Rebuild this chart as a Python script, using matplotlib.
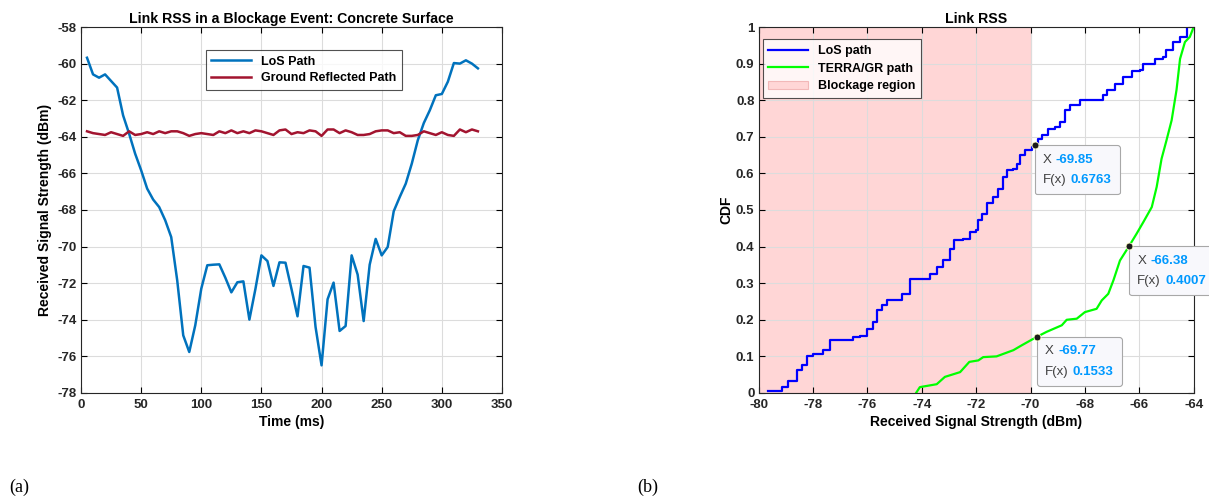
import matplotlib
matplotlib.use('Agg')
import matplotlib.pyplot as plt
from matplotlib.offsetbox import TextArea, HPacker, VPacker, AnnotationBbox

plt.rcParams['font.family'] = ['Liberation Sans', 'DejaVu Sans']
plt.rcParams['axes.unicode_minus'] = False

# (a) RSS over time
time_ms = [5, 10, 15, 20, 25, 30, 35, 40, 45, 50, 55, 60, 65, 70, 75, 80, 85, 90, 95, 100,
           105, 110, 115, 120, 125, 130, 135, 140, 145, 150, 155, 160, 165, 170, 175, 180,
           185, 190, 195, 200, 205, 210, 215, 220, 225, 230, 235, 240, 245, 250, 255, 260,
           265, 270, 275, 280, 285, 290, 295, 300, 305, 310, 315, 320, 325, 330]
los_rss = [-59.68, -60.59, -60.77, -60.59, -60.95, -61.31, -62.83, -63.83, -64.92, -65.83,
           -66.83, -67.43, -67.84, -68.56, -69.48, -71.85, -74.85, -75.76, -74.30, -72.30,
           -71.02, -70.99, -70.97, -71.70, -72.50, -71.95, -71.90, -73.99, -72.32, -70.48,
           -70.79, -72.15, -70.86, -70.88, -72.32, -73.81, -71.06, -71.15, -74.39, -76.49,
           -72.88, -71.97, -74.61, -74.34, -70.48, -71.53, -74.07, -70.99, -69.58, -70.48,
           -70.02, -68.07, -67.29, -66.56, -65.47, -64.19, -63.25, -62.55, -61.73, -61.66,
           -60.99, -59.97, -60.00, -59.82, -60.00, -60.26]
gr_rss = [-63.70, -63.80, -63.85, -63.90, -63.75, -63.85, -63.95, -63.70, -63.90, -63.85,
          -63.75, -63.85, -63.70, -63.80, -63.70, -63.70, -63.80, -63.95, -63.85, -63.80,
          -63.85, -63.90, -63.70, -63.80, -63.65, -63.80, -63.70, -63.80, -63.65, -63.70,
          -63.80, -63.90, -63.65, -63.60, -63.85, -63.75, -63.80, -63.65, -63.70, -63.95,
          -63.60, -63.60, -63.80, -63.65, -63.75, -63.90, -63.90, -63.85, -63.70, -63.65,
          -63.65, -63.80, -63.75, -63.95, -63.95, -63.90, -63.70, -63.80, -63.90, -63.75,
          -63.90, -63.95, -63.60, -63.75, -63.60, -63.70]

# (b) CDF knots
los_x = [-79.67, -79.15, -78.91, -78.60, -78.42, -78.23, -77.99, -77.62, -77.38, -76.64,
         -76.52, -76.27, -76.03, -75.78, -75.66, -75.48, -75.29, -74.92, -74.74, -74.43,
         -73.82, -73.70, -73.45, -73.21, -72.96, -72.82, -72.47, -72.23, -72.01, -71.92,
         -71.80, -71.61, -71.37, -71.18, -71.00, -70.88, -70.64, -70.51, -70.39, -70.20,
         -69.96, -69.85, -69.71, -69.59, -69.34, -69.10, -68.92, -68.73, -68.55, -68.18,
         -67.63, -67.32, -67.20, -66.89, -66.59, -66.28, -65.97, -65.85, -65.42, -65.12,
         -65.00, -64.75, -64.50, -64.26]
los_F = [0.005, 0.016, 0.032, 0.062, 0.076, 0.100, 0.107, 0.117, 0.144, 0.144,
         0.153, 0.155, 0.176, 0.194, 0.226, 0.240, 0.253, 0.255, 0.271, 0.312,
         0.312, 0.326, 0.344, 0.362, 0.394, 0.419, 0.422, 0.440, 0.444, 0.472,
         0.490, 0.519, 0.536, 0.558, 0.590, 0.610, 0.613, 0.627, 0.649, 0.663,
         0.672, 0.6763, 0.695, 0.704, 0.722, 0.727, 0.740, 0.772, 0.786, 0.801,
         0.801, 0.813, 0.827, 0.845, 0.863, 0.880, 0.882, 0.900, 0.913, 0.918,
         0.936, 0.959, 0.973, 1.000]
gr_x = [-74.21, -74.07, -73.45, -73.15, -72.59, -72.25, -71.92, -71.74, -71.25, -70.63,
        -70.33, -69.77, -69.41, -68.85, -68.67, -68.30, -68.00, -67.57, -67.38, -67.14,
        -66.95, -66.71, -66.38, -66.10, -65.85, -65.54, -65.36, -65.18, -65.00, -64.81,
        -64.63, -64.50, -64.32, -64.14, -64.00]
gr_F = [0.000, 0.016, 0.024, 0.044, 0.057, 0.085, 0.089, 0.098, 0.100, 0.117,
        0.130, 0.1533, 0.167, 0.185, 0.200, 0.203, 0.221, 0.230, 0.253, 0.271,
        0.308, 0.362, 0.4007, 0.435, 0.467, 0.508, 0.563, 0.640, 0.690, 0.745,
        0.828, 0.913, 0.959, 0.973, 1.000]

tips_x = [-69.85, -66.38, -69.77]
tips_F = [0.6763, 0.4007, 0.1533]
block_lo, block_hi = -80, -70

fig = plt.figure(figsize=(12.09, 5.01), dpi=100)


def style_axes(ax):
    ax.grid(True, color='#dcdcdc', linewidth=0.8)
    ax.tick_params(direction='in', top=True, right=True, length=4, width=0.8,
                   labelsize=9.5, pad=3)
    ax.tick_params(axis='x', pad=4)
    for lab in ax.get_xticklabels() + ax.get_yticklabels():
        lab.set_fontweight('bold')
        lab.set_color('#262626')
    for sp in ax.spines.values():
        sp.set_color('#262626')
        sp.set_linewidth(0.8)


# ---- left panel
ax1 = fig.add_axes([0.067, 0.2156, 0.3482, 0.7305])
ax1.plot(time_ms, los_rss, color='#0072BD', linewidth=1.8, label='LoS Path')
ax1.plot(time_ms, gr_rss, color='#A2142F', linewidth=1.8, label='Ground Reflected Path')
ax1.set_xlim(0, 350)
ax1.set_ylim(-78, -58)
ax1.set_xticks(range(0, 351, 50))
ax1.set_yticks(range(-78, -57, 2))
style_axes(ax1)
ax1.set_title('Link RSS in a Blockage Event: Concrete Surface', fontsize=10.2,
              fontweight='bold', pad=3)
ax1.set_xlabel('Time (ms)', fontsize=10, fontweight='bold', labelpad=3)
ax1.set_ylabel('Received Signal Strength (dBm)', fontsize=10, fontweight='bold', labelpad=4)
leg1 = ax1.legend(loc='upper left', bbox_to_anchor=(0.296, 0.937), borderaxespad=0,
                  prop={'weight': 'bold', 'size': 9}, fancybox=False, edgecolor='#262626',
                  handlelength=3.2, borderpad=0.45, labelspacing=0.35)
leg1.get_frame().set_linewidth(0.8)

# ---- right panel
ax2 = fig.add_axes([0.6275, 0.2156, 0.3598, 0.7305])
ax2.axvspan(block_lo, block_hi, facecolor='#ffd6d6', edgecolor='#f2b8b8', linewidth=0.8,
            label='Blockage region')
ax2.plot(los_x, los_F, color='#0000ff', linewidth=1.6, drawstyle='steps-post', label='LoS path')
ax2.plot(gr_x, gr_F, color='#00ff00', linewidth=1.6, label='TERRA/GR path')
ax2.set_xlim(-80, -64)
ax2.set_ylim(0, 1)
ax2.set_xticks(range(-80, -63, 2))
ax2.set_yticks([0, 0.1, 0.2, 0.3, 0.4, 0.5, 0.6, 0.7, 0.8, 0.9, 1])
ax2.set_yticklabels(['0', '0.1', '0.2', '0.3', '0.4', '0.5', '0.6', '0.7', '0.8', '0.9', '1'])
style_axes(ax2)
ax2.set_title('Link RSS', fontsize=10.2, fontweight='bold', pad=3)
ax2.set_xlabel('Received Signal Strength (dBm)', fontsize=10, fontweight='bold', labelpad=3)
ax2.set_ylabel('CDF', fontsize=10, fontweight='bold', labelpad=2)
h, l = ax2.get_legend_handles_labels()
leg2 = ax2.legend([h[1], h[2], h[0]], [l[1], l[2], l[0]], loc='upper left',
                  bbox_to_anchor=(0.009, 0.966), borderaxespad=0,
                  prop={'weight': 'bold', 'size': 9}, fancybox=False, edgecolor='#262626',
                  handlelength=3.2, borderpad=0.45, labelspacing=0.45)
leg2.get_frame().set_linewidth(0.8)

# data tips
for tx, tf in zip(tips_x, tips_F):
    ax2.plot(tx, tf, 'o', color='#1a1a1a', markersize=5, markeredgecolor='#ffffcc',
             markeredgewidth=0.6, zorder=5)
    row1 = HPacker(children=[TextArea('X', textprops=dict(color='#404040', size=9.5)),
                             TextArea('%.2f' % tx, textprops=dict(color='#0099ff', size=9.5,
                                                                  weight='bold'))],
                   pad=0, sep=3)
    row2 = HPacker(children=[TextArea('F(x)', textprops=dict(color='#404040', size=9.5)),
                             TextArea('%.4f' % tf, textprops=dict(color='#0099ff', size=9.5,
                                                                  weight='bold'))],
                   pad=0, sep=3)
    box = VPacker(children=[row1, row2], pad=0, sep=6, align='left')
    ab = AnnotationBbox(box, (tx, tf), xybox=(6, -6), boxcoords='offset points',
                        box_alignment=(0, 1), frameon=True, pad=0.6,
                        bboxprops=dict(boxstyle='round,pad=0.6,rounding_size=0.2',
                                       facecolor='#f8f8fc', edgecolor='#a8a8a8',
                                       linewidth=0.8))
    ab.set_clip_on(False)
    ax2.add_artist(ab)

fig.text(0.008, 0.028, '(a)', fontsize=13, family='Liberation Serif', va='center')
fig.text(0.527, 0.028, '(b)', fontsize=13, family='Liberation Serif', va='center')

fig.savefig('out.png', dpi=100)
